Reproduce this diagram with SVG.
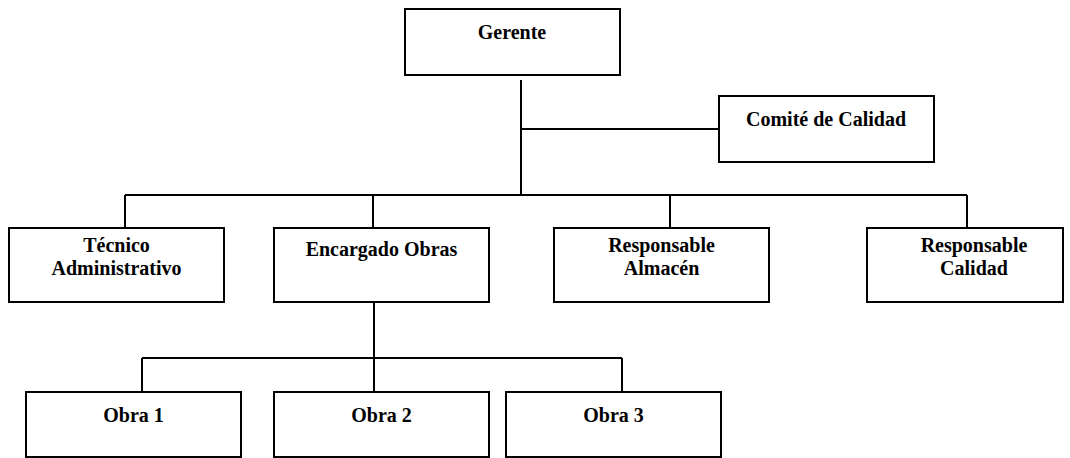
<svg xmlns="http://www.w3.org/2000/svg" width="1070" height="458" viewBox="0 0 1070 458">
<style>
.box{fill:#fff;stroke:#000;stroke-width:2}
.ln{stroke:#000;stroke-width:2;fill:none}
.t{font-family:"Liberation Serif","Times New Roman",serif;font-weight:bold;font-size:20px;text-anchor:middle;fill:#000}
</style>
<rect width="1070" height="458" fill="#fff"/>
<g id="connectors">
<path class="ln" d="M521 80V196M521 129H719M125 195H967M125 195V228M373 195V228M670 195V228M967 195V228"/>
<path class="ln" d="M374 296V392M142 358H622M142 358V392M622 358V392"/>
</g>
<g id="gerente"><rect class="box" x="405" y="9" width="215" height="66"/><text class="t" x="512" y="39">Gerente</text></g>
<g id="comite"><rect class="box" x="719" y="96" width="215" height="66"/><text class="t" x="826" y="126">Comité de Calidad</text></g>
<g id="tecnico"><rect class="box" x="9" y="228" width="215" height="74"/><text class="t" x="116.5" y="252">Técnico</text><text class="t" x="116.5" y="275">Administrativo</text></g>
<g id="encargado"><rect class="box" x="274" y="228" width="215" height="74"/><text class="t" x="381.5" y="256">Encargado Obras</text></g>
<g id="almacen"><rect class="box" x="554" y="228" width="215" height="74"/><text class="t" x="661.5" y="252">Responsable</text><text class="t" x="661.5" y="275">Almacén</text></g>
<g id="calidad"><rect class="box" x="867" y="228" width="196" height="74"/><text class="t" x="974" y="252">Responsable</text><text class="t" x="974" y="275">Calidad</text></g>
<g id="obra1"><rect class="box" x="26" y="392" width="215" height="65"/><text class="t" x="133.5" y="422">Obra 1</text></g>
<g id="obra2"><rect class="box" x="274" y="392" width="215" height="65"/><text class="t" x="381.5" y="422">Obra 2</text></g>
<g id="obra3"><rect class="box" x="506" y="392" width="215" height="65"/><text class="t" x="613.5" y="422">Obra 3</text></g>
</svg>
